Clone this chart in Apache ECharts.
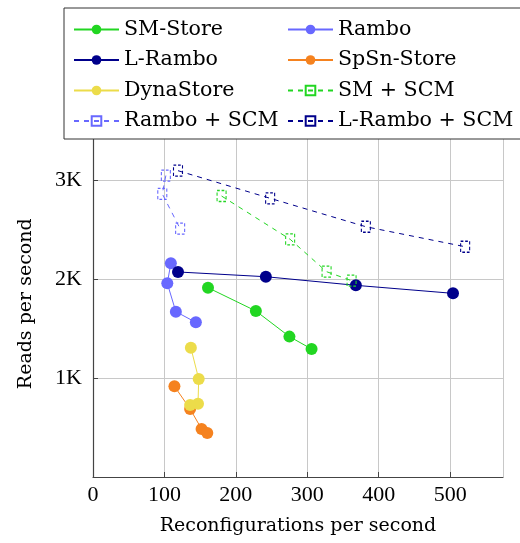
<!DOCTYPE html>
<html>
<head>
<meta charset="utf-8">
<script src="https://cdn.jsdelivr.net/npm/echarts@6/dist/echarts.min.js"></script>
<style>html,body{margin:0;padding:0;background:#fff}#c{width:520px;height:543px}</style>
</head>
<body>
<div id="c"></div>
<script>
// ---- data (x: reconfigurations/s, y: reads/s) ----
const smStore   = [[161,1912],[228,1677],[275,1418],[306,1293]];
const rambo     = [[109,2158],[104,1956],[116,1670],[144,1562]];
const lRambo    = [[119,2071],[242,2023],[368,1936],[504,1855]];
const spsnStore = [[114,916],[136,687],[152,485],[160,444]];
const dynaStore = [[137,1306],[148,990],[147,741],[136,727]];
const smScm     = [[180,2838],[276,2401],[327,2074],[362,1983]];
const ramboScm  = [[102,3045],[97,2860],[122,2508]];
const lRamboScm = [[119,3094],[248,2815],[382,2528],[521,2326]];
const seriesNames = ['SM-Store','Rambo','L-Rambo','SpSn-Store','DynaStore','SM + SCM','Rambo + SCM','L-Rambo + SCM'];
const xTickValues = [0,100,200,300,400,500];
const yTickLabels = {1000:'1K',2000:'2K',3000:'3K'};

const colors = {
  'SM-Store':'#22d622','Rambo':'#6868ff','L-Rambo':'#00008b','SpSn-Store':'#f5821f',
  'DynaStore':'#ecdc4a','SM + SCM':'#22d622','Rambo + SCM':'#6868ff','L-Rambo + SCM':'#00008b'
};
const dataMap = {
  'SM-Store':smStore,'Rambo':rambo,'L-Rambo':lRambo,'SpSn-Store':spsnStore,'DynaStore':dynaStore,
  'SM + SCM':smScm,'Rambo + SCM':ramboScm,'L-Rambo + SCM':lRamboScm
};

function solid(name){
  const c = colors[name];
  return {name, type:'line', data:dataMap[name], symbol:'circle', symbolSize:12,
    lineStyle:{color:c,width:1}, itemStyle:{color:c}, emphasis:{disabled:true}, z:3};
}
function dashed(name){
  const c = colors[name];
  return {name, type:'line', data:dataMap[name], symbol:'rect', symbolSize:[9,11],
    lineStyle:{color:c,width:1,type:[5,5]},
    itemStyle:{color:'rgba(255,255,255,0)',borderColor:c,borderWidth:1.2,borderType:[3,2]},
    emphasis:{disabled:true}, z:3};
}

const serif = 'DejaVu Serif';
const tickFont = 'Liberation Serif';
const legendCommon = {
  orient:'vertical', top:19, itemWidth:45, itemHeight:12, itemGap:9.5,
  textStyle:{fontFamily:serif,fontSize:20.6,color:'#000',lineHeight:20},
  selectedMode:false, z:100, padding:0
};

const chart = echarts.init(document.getElementById('c'), null, {renderer:'canvas'});
chart.setOption({
  animation:false,
  backgroundColor:'#fff',
  grid:{left:93,right:17,top:130.5,bottom:66},
  xAxis:{type:'value',min:0,max:574,interval:100,
    axisLine:{show:true,onZero:false,lineStyle:{color:'#444',width:1.2}},
    axisTick:{show:true,inside:true,length:5,lineStyle:{color:'#444'}},
    axisLabel:{show:true,margin:7,color:'#000',fontFamily:tickFont,fontSize:22,showMaxLabel:false,
      formatter:v=>xTickValues.includes(v)?String(v):''},
    splitLine:{show:true,lineStyle:{color:'#c8c8c8',width:1}},
    name:'Reconfigurations per second',nameLocation:'middle',nameGap:40,
    nameTextStyle:{fontFamily:serif,fontSize:19,color:'#000'}},
  yAxis:{type:'value',min:0,max:3500,interval:1000,
    axisLine:{show:true,onZero:false,lineStyle:{color:'#444',width:1.2}},
    axisTick:{show:true,inside:true,length:5,lineStyle:{color:'#444'}},
    axisLabel:{show:true,margin:11,color:'#000',fontFamily:tickFont,fontSize:22,showMaxLabel:false,
      formatter:v=>yTickLabels[v]||''},
    splitLine:{show:true,lineStyle:{color:'#c8c8c8',width:1}},
    name:'Reads per second',nameLocation:'middle',nameGap:57,nameRotate:90,
    nameTextStyle:{fontFamily:serif,fontSize:19,color:'#000'}},
  graphic:[{type:'rect',shape:{x:64,y:8,width:480,height:131},
    style:{fill:'#fff',stroke:'#333',lineWidth:1},z:50}],
  legend:[
    Object.assign({},legendCommon,{left:73,data:['SM-Store','L-Rambo','DynaStore','Rambo + SCM']}),
    Object.assign({},legendCommon,{left:287,data:['Rambo','SpSn-Store','SM + SCM','L-Rambo + SCM']})
  ],
  series:[
    solid('SM-Store'),solid('Rambo'),solid('L-Rambo'),solid('SpSn-Store'),solid('DynaStore'),
    dashed('SM + SCM'),dashed('Rambo + SCM'),dashed('L-Rambo + SCM')
  ]
});
</script>
</body>
</html>
